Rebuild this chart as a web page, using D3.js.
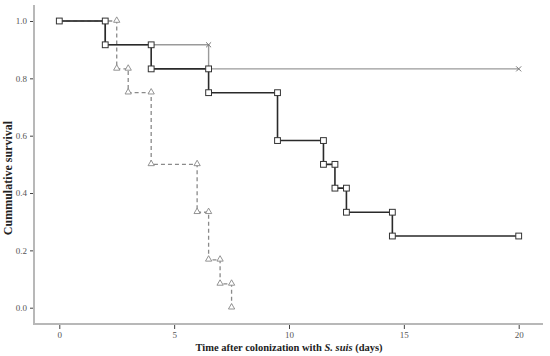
<!DOCTYPE html>
<html>
<head>
<meta charset="utf-8">
<script src="https://cdn.jsdelivr.net/npm/d3@7"></script>
<style>
  body { margin: 0; background: #fff; }
  text { font-family: "Liberation Serif", "DejaVu Serif", serif; }
</style>
</head>
<body>
<div id="chart"></div>
<script>
// survival curves (time in days, cumulative survival)
var blackTimes = [0, 2, 4, 6.5, 9.5, 11.5, 12, 12.5, 14.5, 20];
var blackSurv  = [1.0, 0.917, 0.833, 0.75, 0.583, 0.5, 0.417, 0.333, 0.25, 0.25];

var greyTimes = [0, 2, 6.5, 20];
var greySurv  = [1.0, 0.917, 0.833, 0.833];
var greyCensor = [[6.5, 0.917], [20, 0.833]];

var dashTimes = [0, 2.5, 3, 4, 6, 6.5, 7, 7.5];
var dashSurv  = [1.0, 0.833, 0.75, 0.5, 0.333, 0.167, 0.083, 0.0];

var xTicks = [0, 5, 10, 15, 20];
var yTicks = [0.0, 0.2, 0.4, 0.6, 0.8, 1.0];

var width = 550, height = 356;

var svg = d3.select('#chart')
  .append('svg')
  .attr('width', width)
  .attr('height', height);

var x = d3.scaleLinear().domain([0, 20]).range([59.3, 518.7]);
var y = d3.scaleLinear().domain([0, 1]).range([307.7, 21]);

// step path corners
var stepPoints = function (times, surv) {
  var pts = [[times[0], surv[0]]];
  for (var i = 1; i < times.length; i++) {
    pts.push([times[i], surv[i - 1]]);
    if (surv[i] !== surv[i - 1]) pts.push([times[i], surv[i]]);
  }
  return pts;
};

var line = d3.line()
  .x(function (d) { return x(d[0]); })
  .y(function (d) { return y(d[1]); });

// axes
var xAxis = svg.append('g')
  .attr('transform', 'translate(0,324)')
  .call(d3.axisBottom(x).tickValues(xTicks).tickSize(5).tickFormat(d3.format('d')));
xAxis.select('.domain').remove();
xAxis.append('line')
  .attr('x1', 34).attr('x2', 543).attr('y1', 0).attr('y2', 0)
  .attr('stroke', '#b8b8b8').attr('stroke-width', 2);

var yAxis = svg.append('g')
  .attr('transform', 'translate(34,0)')
  .call(d3.axisLeft(y).tickValues(yTicks).tickSize(4).tickFormat(d3.format('.1f')));
yAxis.select('.domain').remove();
yAxis.append('line')
  .attr('x1', 0).attr('x2', 0).attr('y1', 5).attr('y2', 325)
  .attr('stroke', '#b8b8b8').attr('stroke-width', 2);

svg.selectAll('.tick line').attr('stroke', '#444').attr('stroke-width', 1);
svg.selectAll('.tick text')
  .style('font-size', '9px')
  .attr('fill', '#555');

// grey curve
svg.append('path')
  .datum(stepPoints(greyTimes, greySurv))
  .attr('d', line)
  .attr('fill', 'none')
  .attr('stroke', '#9a9a9a')
  .attr('stroke-width', 1.4);

// dashed curve
var dashPts = stepPoints(dashTimes, dashSurv);
svg.append('path')
  .datum(dashPts)
  .attr('d', line)
  .attr('fill', 'none')
  .attr('stroke', '#8a8a8a')
  .attr('stroke-width', 1.3)
  .attr('stroke-dasharray', '4,3');

// black curve
var blackPts = stepPoints(blackTimes, blackSurv);
svg.append('path')
  .datum(blackPts)
  .attr('d', line)
  .attr('fill', 'none')
  .attr('stroke', '#2a2a2a')
  .attr('stroke-width', 1.6);

// triangle markers
var tri = d3.symbol().type(d3.symbolTriangle).size(17);
svg.selectAll('.tri')
  .data(dashPts.slice(1))
  .enter().append('path')
  .attr('class', 'tri')
  .attr('d', tri)
  .attr('transform', function (d) { return 'translate(' + x(d[0]) + ',' + (y(d[1]) - 0.5) + ')'; })
  .attr('fill', '#fff')
  .attr('stroke', '#888')
  .attr('stroke-width', 0.9);

// square markers
svg.selectAll('.sq')
  .data(blackPts)
  .enter().append('rect')
  .attr('class', 'sq')
  .attr('x', function (d) { return x(d[0]) - 2.9; })
  .attr('y', function (d) { return y(d[1]) - 2.9; })
  .attr('width', 5.8)
  .attr('height', 5.8)
  .attr('fill', '#fff')
  .attr('stroke', '#333')
  .attr('stroke-width', 1);

// censor crosses
var cross = d3.symbol().type(d3.symbolX).size(18);
svg.selectAll('.cx')
  .data(greyCensor)
  .enter().append('path')
  .attr('class', 'cx')
  .attr('d', cross)
  .attr('transform', function (d) { return 'translate(' + x(d[0]) + ',' + y(d[1]) + ')'; })
  .attr('fill', 'none')
  .attr('stroke', '#777')
  .attr('stroke-width', 1);

// axis titles
svg.append('text')
  .attr('x', 289)
  .attr('y', 351)
  .attr('text-anchor', 'middle')
  .style('font-size', '10.5px')
  .style('font-weight', 'bold')
  .attr('fill', '#222')
  .html('Time after colonization with <tspan font-style="italic">S. suis</tspan> (days)');

svg.append('text')
  .attr('transform', 'translate(12,178) rotate(-90)')
  .attr('text-anchor', 'middle')
  .style('font-size', '12px')
  .style('font-weight', 'bold')
  .attr('fill', '#222')
  .text('Cummulative survival');
</script>
</body>
</html>
